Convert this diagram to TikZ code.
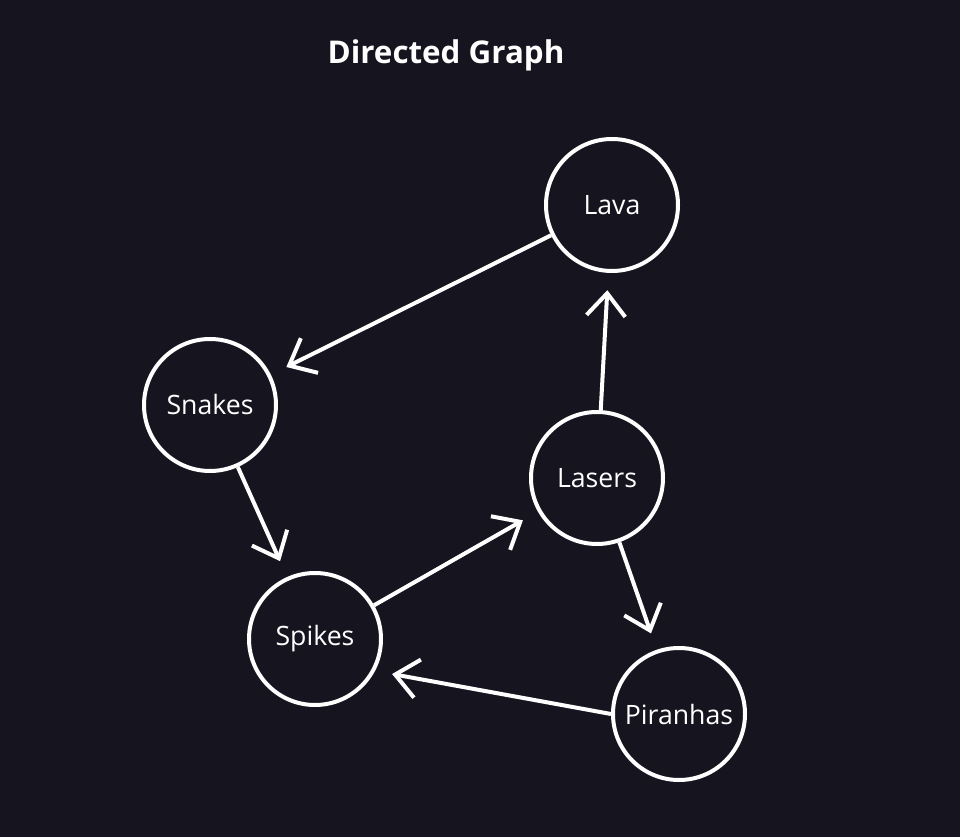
\documentclass[tikz,border=0pt]{standalone}
\usepackage{fontspec}
\setmainfont{Open Sans}
\usepackage{tikz}
\usetikzlibrary{positioning,arrows.meta}

\definecolor{bgdark}{HTML}{16151F}

\begin{document}
\begin{tikzpicture}[
            x=0.75pt, y=-0.75pt,
            state/.style={circle, draw=white, line width=3pt, minimum size=99pt, inner sep=0pt, text=white, font=\fontsize{20}{24}\selectfont},
            link/.style={draw=white, line width=3pt, shorten >=13pt, -{Straight Barb[length=17pt, width=29pt]}},
        ]
        \fill[bgdark] (0,0) rectangle (960,837);
        \useasboundingbox (0,0) rectangle (960,837);
        \node[text=white, font=\fontsize{23.5}{28}\selectfont\bfseries] (title) at (446,55) {Directed Graph};

        \node[state] (lava) at (612,205) {Lava};
        \node[state] (snakes) at (210,405) {Snakes};
        \node[state] (lasers) at (597,478) {Lasers};
        \node[state] (spikes) at (315,639) {Spikes};
        \node[state] (piranhas) at (679,714) {Piranhas};

        \draw[link] (lava) -- (snakes);
        \draw[link] (snakes) -- (spikes);
        \draw[link] (spikes) -- (lasers);
        \draw[link] (lasers) -- (lava);
        \draw[link] (lasers) -- (piranhas);
        \draw[link] (piranhas.west) -- (spikes.-28);
\end{tikzpicture}
\end{document}
